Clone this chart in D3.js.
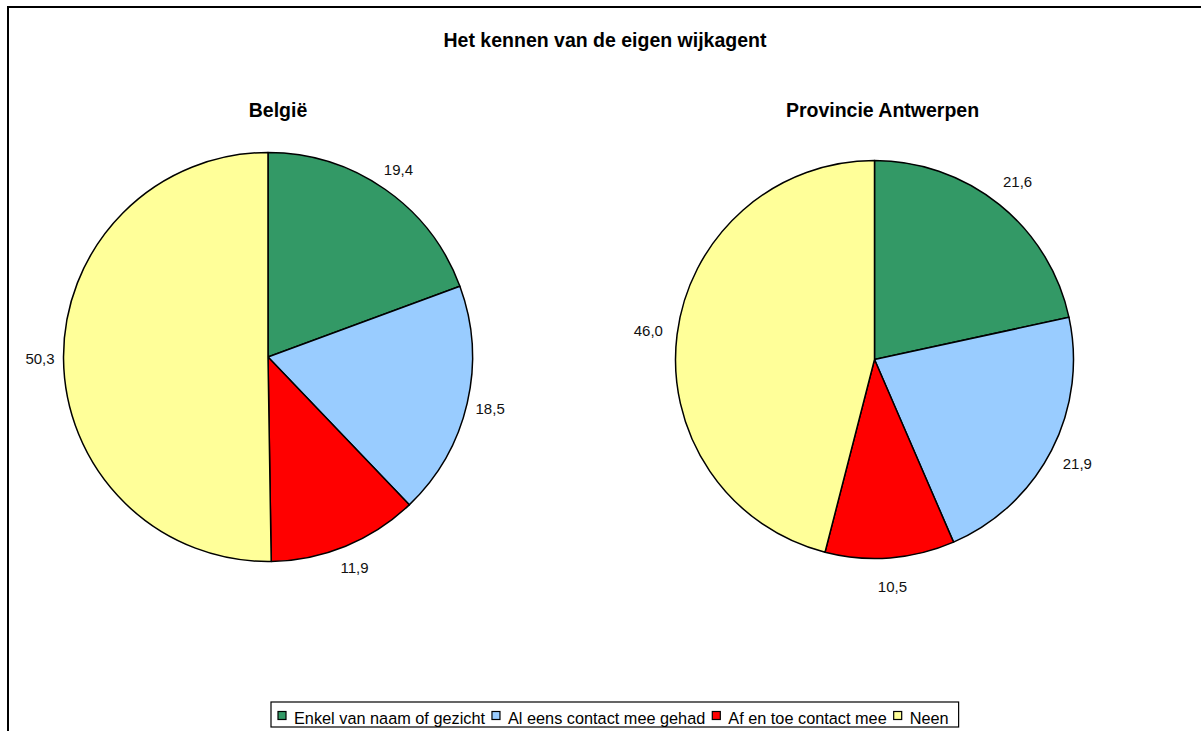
<!DOCTYPE html>
<html>
<head>
    <meta charset="utf-8">
    <title>Het kennen van de eigen wijkagent</title>
    <script src="https://d3js.org/d3.v7.min.js"></script>
    <style>
        body { margin: 0; background: #fff; }
        svg { display: block; font-family: "Liberation Sans", Arial, sans-serif; }
    </style>
</head>
<body>
<svg id="chart" width="1201" height="731"></svg>

<script>
    // Gegevens
    var categories = ["Enkel van naam of gezicht", "Al eens contact mee gehad", "Af en toe contact mee", "Neen"];
    var belgie = [19.4, 18.5, 11.9, 50.3];
    var antwerpen = [21.6, 21.9, 10.5, 46.0];
    var regions = ["België", "Provincie Antwerpen"];
    var colors = ["#339966", "#99ccff", "#ff0000", "#ffff99"];

    var svg = d3.select("#chart");

    // Kader rond de grafiek (loopt rechts/onder buiten beeld)
    svg.append("rect")
        .attr("x", 8).attr("y", 7)
        .attr("width", 1200).attr("height", 730)
        .style("fill", "none")
        .style("stroke", "black")
        .style("stroke-width", 2);

    // Titel
    svg.append("text")
        .attr("x", 605).attr("y", 47)
        .attr("text-anchor", "middle")
        .style("font-size", "19.5px")
        .style("font-weight", "bold")
        .text("Het kennen van de eigen wijkagent");

    var color = d3.scaleOrdinal().domain(categories).range(colors);

    var pie = d3.pie()
        .sort(null)
        .value(function(d) { return d.value; });

    // Twee taartdiagrammen
    var pies = [
        { name: regions[0], values: belgie, cx: 268, cy: 357, r: 204.5, titleX: 278 },
        { name: regions[1], values: antwerpen, cx: 874.5, cy: 359.5, r: 199, titleX: 882.5 }
    ];
    var labelR = 228;

    pies.forEach(function(p) {
        var data = categories.map(function(c, i) { return { cat: c, value: p.values[i] }; });
        var arcs = pie(data);
        var arc = d3.arc().innerRadius(0).outerRadius(p.r);
        var labelArc = d3.arc().innerRadius(labelR).outerRadius(labelR);

        svg.append("text")
            .attr("x", p.titleX).attr("y", 117)
            .attr("text-anchor", "middle")
            .style("font-size", "19.5px")
            .style("font-weight", "bold")
            .text(p.name);

        var g = svg.append("g")
            .attr("transform", "translate(" + p.cx + "," + p.cy + ")");

        g.selectAll("path")
            .data(arcs)
            .enter().append("path")
            .attr("d", arc)
            .style("fill", function(d) { return color(d.data.cat); })
            .style("stroke", "black")
            .style("stroke-width", 1.5)
            .style("stroke-linejoin", "round");

        g.selectAll("text")
            .data(arcs)
            .enter().append("text")
            .attr("transform", function(d) { return "translate(" + labelArc.centroid(d) + ")"; })
            .attr("text-anchor", "middle")
            .attr("dy", "0.35em")
            .style("font-size", "15px")
            .style("fill", "#111")
            .text(function(d) { return d.data.value.toFixed(1).replace(".", ","); });
    });

    // Legenda
    var legend = svg.append("g");
    var legendBox = legend.append("rect");
    var lx = 278, ly = 711.5;
    categories.forEach(function(c) {
        legend.append("rect")
            .attr("x", lx).attr("y", ly)
            .attr("width", 8).attr("height", 8)
            .style("fill", color(c))
            .style("stroke", "black")
            .style("stroke-width", 1.2);
        var t = legend.append("text")
            .attr("x", lx + 16).attr("y", 723.5)
            .style("font-size", "16.3px")
            .text(c);
        lx = lx + 16 + t.node().getComputedTextLength() + 7;
    });
    legendBox
        .attr("x", 271).attr("y", 702)
        .attr("width", lx - 7 + 10 - 271).attr("height", 25)
        .style("fill", "white")
        .style("stroke", "black")
        .style("stroke-width", 1.2);
</script>
</body>
</html>
